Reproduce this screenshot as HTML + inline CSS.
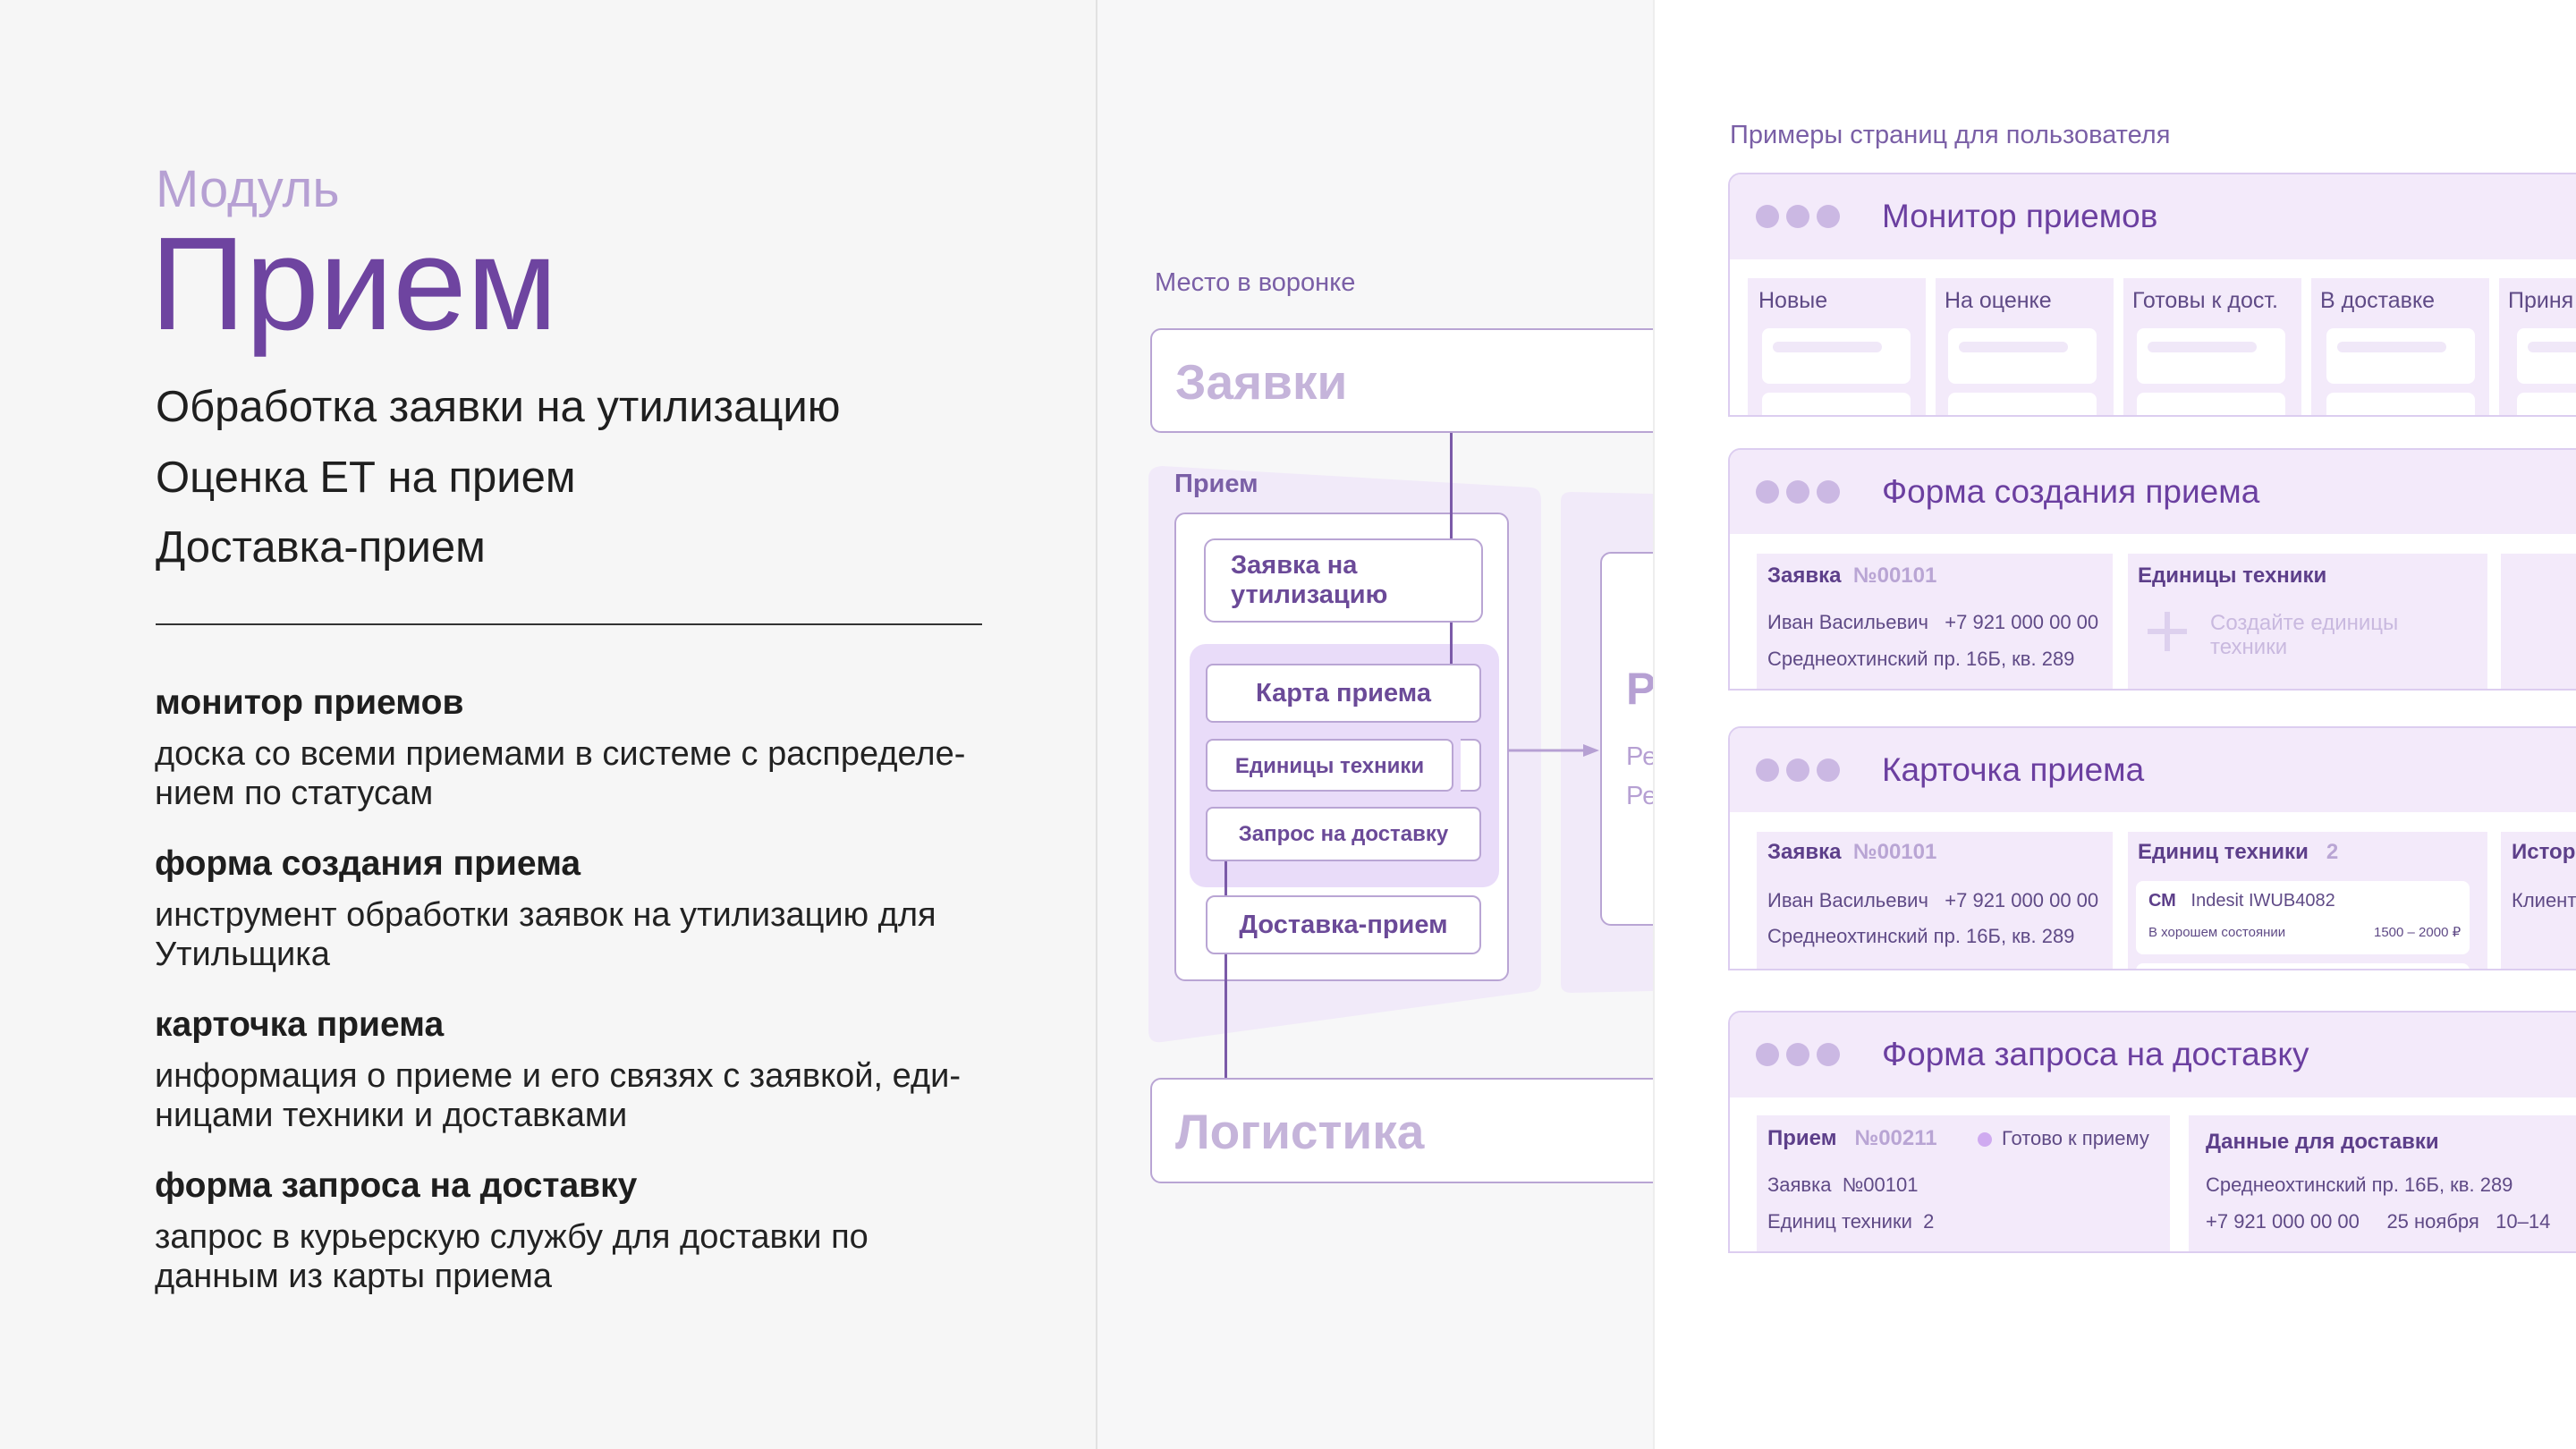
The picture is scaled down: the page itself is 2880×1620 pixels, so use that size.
<!DOCTYPE html>
<html><head><meta charset="utf-8"><style>
*{margin:0;padding:0;box-sizing:border-box}
body{width:2880px;height:1620px;overflow:hidden;position:relative;font-family:"Liberation Sans","Noto Sans CJK SC",sans-serif;background:#fff}
.a{position:absolute;white-space:nowrap}
.box{position:absolute;border:2px solid #b9a5d4;background:#fff;border-radius:12px}
.card{position:absolute;left:1932px;right:-20px;border:2px solid #dccdf0;border-radius:14px 0 0 0;background:#fff;overflow:hidden}
.hd{position:absolute;left:0;right:0;top:0;background:#f3eafa}
.dot{position:absolute;width:26px;height:26px;border-radius:50%;background:#cbb8e3}
.ct{position:absolute;left:170px;font-size:37px;color:#6b3fa0;white-space:nowrap}
.col{position:absolute;background:#f3eafa}
.t{position:absolute;white-space:nowrap;font-size:22px;color:#5f4a86}
</style></head><body>
<!-- backgrounds -->
<div class="a" style="left:0;top:0;width:1225px;height:1620px;background:#f6f6f6"></div>
<div class="a" style="left:1225px;top:0;width:2px;height:1620px;background:#e2e2e2"></div>
<div class="a" style="left:1227px;top:0;width:621px;height:1620px;background:#f7f7f8"></div>

<!-- left -->
<div class="a" style="left:174px;top:180px;font-size:58px;line-height:64px;color:#b6a0d3">Модуль</div>
<div class="a" style="left:168px;top:238px;font-size:148px;line-height:160px;color:#6e44a0">Прием</div>
<div class="a" style="left:174px;top:428px;font-size:49px;line-height:54px;color:#1f1f1f">Обработка заявки на утилизацию</div>
<div class="a" style="left:174px;top:507px;font-size:49px;line-height:54px;color:#1f1f1f">Оценка ЕТ на прием</div>
<div class="a" style="left:174px;top:585px;font-size:49px;line-height:54px;color:#1f1f1f">Доставка-прием</div>
<div class="a" style="left:174px;top:697px;width:924px;height:2px;background:#333"></div>

<div class="a" style="left:173px;top:764px;font-size:39px;line-height:44px;font-weight:bold;color:#1e1e1e">монитор приемов</div>
<div class="a" style="left:173px;top:821px;font-size:38px;line-height:44px;color:#222">доска со всеми приемами в системе с распределе-<br>нием по статусам</div>
<div class="a" style="left:173px;top:944px;font-size:39px;line-height:44px;font-weight:bold;color:#1e1e1e">форма создания приема</div>
<div class="a" style="left:173px;top:1001px;font-size:38px;line-height:44px;color:#222">инструмент обработки заявок на утилизацию для<br>Утильщика</div>
<div class="a" style="left:173px;top:1124px;font-size:39px;line-height:44px;font-weight:bold;color:#1e1e1e">карточка приема</div>
<div class="a" style="left:173px;top:1181px;font-size:38px;line-height:44px;color:#222">информация о приеме и его связях с заявкой, еди-<br>ницами техники и доставками</div>
<div class="a" style="left:173px;top:1304px;font-size:39px;line-height:44px;font-weight:bold;color:#1e1e1e">форма запроса на доставку</div>
<div class="a" style="left:173px;top:1361px;font-size:38px;line-height:44px;color:#222">запрос в курьерскую службу для доставки по<br>данным из карты приема</div>

<!-- middle -->
<div class="a" style="left:1291px;top:300px;font-size:29px;line-height:32px;color:#7a5fa6">Место в воронке</div>
<svg class="a" style="left:1227px;top:0" width="621" height="1620">
  <path d="M57 535 Q57 522 72 521 L485 545 Q496 546 496 560 L496 1095 Q496 1108 483 1109 L72 1165 Q57 1167 57 1152 Z" fill="#f1eaf9"/>
  <path d="M518 560 Q518 550 530 550 L621 552 L621 1108 L530 1110 Q518 1110 518 1100 Z" fill="#f1eaf9"/>
</svg>
<div class="box" style="left:1286px;top:367px;width:600px;height:117px"></div>
<div class="a" style="left:1314px;top:396px;font-size:55px;line-height:62px;font-weight:bold;color:#c5b4da">Заявки</div>
<div class="box" style="left:1286px;top:1205px;width:600px;height:118px"></div>
<div class="a" style="left:1314px;top:1234px;font-size:55px;line-height:62px;font-weight:bold;color:#c5b4da">Логистика</div>
<div class="a" style="left:1313px;top:524px;font-size:29px;line-height:34px;font-weight:bold;color:#7a5fa6">Прием</div>

<div class="box" style="left:1313px;top:573px;width:374px;height:524px"></div>
<div class="a" style="left:1330px;top:720px;width:346px;height:272px;background:#e9dcf9;border-radius:18px"></div>
<div class="box" style="left:1346px;top:602px;width:312px;height:94px"></div>
<div class="a" style="left:1376px;top:616px;font-size:29px;line-height:33px;font-weight:bold;color:#6b4a98">Заявка на<br>утилизацию</div>
<div class="box" style="left:1348px;top:742px;width:308px;height:66px;border-radius:8px"></div>
<div class="a" style="left:1348px;top:757px;width:308px;text-align:center;font-size:29px;line-height:36px;font-weight:bold;color:#6b4a98">Карта приема</div>
<div class="box" style="left:1348px;top:826px;width:277px;height:59px;border-radius:8px"></div>
<div class="box" style="left:1633px;top:826px;width:23px;height:59px;border-radius:0 8px 8px 0;border-left:none"></div>
<div class="a" style="left:1348px;top:842px;width:277px;text-align:center;font-size:24px;line-height:30px;font-weight:bold;color:#6b4a98">Единицы техники</div>
<div class="box" style="left:1348px;top:902px;width:308px;height:61px;border-radius:8px"></div>
<div class="a" style="left:1348px;top:918px;width:308px;text-align:center;font-size:24px;line-height:30px;font-weight:bold;color:#6b4a98">Запрос на доставку</div>
<div class="box" style="left:1348px;top:1001px;width:308px;height:66px;border-radius:10px"></div>
<div class="a" style="left:1348px;top:1016px;width:308px;text-align:center;font-size:29px;line-height:36px;font-weight:bold;color:#6b4a98">Доставка-прием</div>

<div class="a" style="left:1621px;top:484px;width:3px;height:118px;background:#7b5aa8"></div>
<div class="a" style="left:1621px;top:696px;width:3px;height:46px;background:#7b5aa8"></div>
<div class="a" style="left:1369px;top:963px;width:3px;height:38px;background:#7b5aa8"></div>
<div class="a" style="left:1369px;top:1067px;width:3px;height:138px;background:#7b5aa8"></div>
<svg class="a" style="left:1686px;top:829px" width="104" height="20"><line x1="0" y1="10" x2="88" y2="10" stroke="#b6a0d3" stroke-width="3"/><path d="M102 10 L84 3 L84 17 Z" fill="#b6a0d3"/></svg>
<div class="box" style="left:1789px;top:617px;width:120px;height:418px;border-radius:12px 0 0 12px"></div>
<div class="a" style="left:1818px;top:742px;font-size:50px;line-height:56px;font-weight:bold;color:#b6a0d3">Р</div>
<div class="a" style="left:1818px;top:824px;font-size:29px;line-height:44px;color:#b6a0d3">Ре<br>Ре</div>

<!-- right panel cover -->
<div class="a" style="left:1848px;top:0;width:1032px;height:1620px;background:#fff;border-left:2px solid #eeeeee"></div>

<!-- right -->
<div class="a" style="left:1934px;top:134px;font-size:29px;line-height:34px;color:#7a5fa6">Примеры страниц для пользователя</div>

<!-- card 1 -->
<div class="card" style="top:193px;height:273px">
  <div class="hd" style="height:95px"></div>
  <div class="dot" style="left:29px;top:34px"></div><div class="dot" style="left:63px;top:34px"></div><div class="dot" style="left:97px;top:34px"></div>
  <div class="ct" style="top:25px;line-height:44px">Монитор приемов</div>
  <div class="col" style="left:20px;top:116px;width:199px;height:160px"></div>
  <div class="col" style="left:230px;top:116px;width:199px;height:160px"></div>
  <div class="col" style="left:440px;top:116px;width:199px;height:160px"></div>
  <div class="col" style="left:650px;top:116px;width:199px;height:160px"></div>
  <div class="col" style="left:860px;top:116px;width:199px;height:160px"></div>
  <div class="t" style="left:32px;top:126px;font-size:25px;line-height:30px">Новые</div>
  <div class="t" style="left:240px;top:126px;font-size:25px;line-height:30px">На оценке</div>
  <div class="t" style="left:450px;top:126px;font-size:25px;line-height:30px">Готовы к дост.</div>
  <div class="t" style="left:660px;top:126px;font-size:25px;line-height:30px">В доставке</div>
  <div class="t" style="left:870px;top:126px;font-size:25px;line-height:30px">Приня</div>
  <div style="position:absolute;left:36px;top:172px;width:166px;height:62px;background:#fff;border-radius:8px"></div>
  <div style="position:absolute;left:244px;top:172px;width:166px;height:62px;background:#fff;border-radius:8px"></div>
  <div style="position:absolute;left:455px;top:172px;width:166px;height:62px;background:#fff;border-radius:8px"></div>
  <div style="position:absolute;left:667px;top:172px;width:166px;height:62px;background:#fff;border-radius:8px"></div>
  <div style="position:absolute;left:880px;top:172px;width:166px;height:62px;background:#fff;border-radius:8px"></div>
  <div style="position:absolute;left:36px;top:244px;width:166px;height:40px;background:#fff;border-radius:8px"></div>
  <div style="position:absolute;left:244px;top:244px;width:166px;height:40px;background:#fff;border-radius:8px"></div>
  <div style="position:absolute;left:455px;top:244px;width:166px;height:40px;background:#fff;border-radius:8px"></div>
  <div style="position:absolute;left:667px;top:244px;width:166px;height:40px;background:#fff;border-radius:8px"></div>
  <div style="position:absolute;left:880px;top:244px;width:166px;height:40px;background:#fff;border-radius:8px"></div>
  <div style="position:absolute;left:48px;top:187px;width:122px;height:12px;background:#f0e8f8;border-radius:6px"></div>
  <div style="position:absolute;left:256px;top:187px;width:122px;height:12px;background:#f0e8f8;border-radius:6px"></div>
  <div style="position:absolute;left:467px;top:187px;width:122px;height:12px;background:#f0e8f8;border-radius:6px"></div>
  <div style="position:absolute;left:679px;top:187px;width:122px;height:12px;background:#f0e8f8;border-radius:6px"></div>
  <div style="position:absolute;left:892px;top:187px;width:122px;height:12px;background:#f0e8f8;border-radius:6px"></div>
</div>

<!-- card 2 -->
<div class="card" style="top:501px;height:271px">
  <div class="hd" style="height:94px"></div>
  <div class="dot" style="left:29px;top:34px"></div><div class="dot" style="left:63px;top:34px"></div><div class="dot" style="left:97px;top:34px"></div>
  <div class="ct" style="top:25px;line-height:44px">Форма создания приема</div>
  <div class="col" style="left:30px;top:116px;width:398px;height:160px"></div>
  <div class="col" style="left:445px;top:116px;width:402px;height:160px"></div>
  <div class="col" style="left:862px;top:116px;width:200px;height:160px"></div>
  <div class="t" style="left:42px;top:127px;font-size:24px;line-height:28px;font-weight:bold;color:#5d3f8a">Заявка&nbsp; <span style="color:#b9a5d4">№00101</span></div>
  <div class="t" style="left:42px;top:180px">Иван Васильевич&nbsp;&nbsp; +7 921 000 00 00</div>
  <div class="t" style="left:42px;top:221px">Среднеохтинский пр. 16Б, кв. 289</div>
  <div class="t" style="left:456px;top:127px;font-size:24px;line-height:28px;font-weight:bold;color:#5d3f8a">Единицы техники</div>
  <div style="position:absolute;left:467px;top:200px;width:44px;height:6px;background:#ddd0ee"></div>
  <div style="position:absolute;left:486px;top:181px;width:6px;height:44px;background:#ddd0ee"></div>
  <div class="t" style="left:537px;top:180px;font-size:24px;line-height:27px;color:#c9b9df">Создайте единицы<br>техники</div>
</div>

<!-- card 3 -->
<div class="card" style="top:812px;height:273px">
  <div class="hd" style="height:94px"></div>
  <div class="dot" style="left:29px;top:34px"></div><div class="dot" style="left:63px;top:34px"></div><div class="dot" style="left:97px;top:34px"></div>
  <div class="ct" style="top:25px;line-height:44px">Карточка приема</div>
  <div class="col" style="left:30px;top:116px;width:398px;height:160px"></div>
  <div class="col" style="left:445px;top:116px;width:402px;height:160px"></div>
  <div class="col" style="left:862px;top:116px;width:200px;height:160px"></div>
  <div class="t" style="left:42px;top:125px;font-size:24px;line-height:28px;font-weight:bold;color:#5d3f8a">Заявка&nbsp; <span style="color:#b9a5d4">№00101</span></div>
  <div class="t" style="left:42px;top:180px">Иван Васильевич&nbsp;&nbsp; +7 921 000 00 00</div>
  <div class="t" style="left:42px;top:220px">Среднеохтинский пр. 16Б, кв. 289</div>
  <div class="t" style="left:456px;top:125px;font-size:24px;line-height:28px;font-weight:bold;color:#5d3f8a">Единиц техники&nbsp;&nbsp; <span style="color:#b9a5d4">2</span></div>
  <div style="position:absolute;left:454px;top:171px;width:373px;height:82px;background:#fff;border-radius:8px"></div>
  <div style="position:absolute;left:454px;top:263px;width:373px;height:30px;background:#fff;border-radius:8px"></div>
  <div class="t" style="left:468px;top:181px;font-size:20px;line-height:24px"><b style="color:#5d3f8a">СМ</b>&nbsp;&nbsp; Indesit IWUB4082</div>
  <div class="t" style="left:468px;top:219px;font-size:15px;line-height:20px">В хорошем состоянии</div>
  <div class="t" style="left:720px;top:219px;font-size:15px;line-height:20px">1500 – 2000 ₽</div>
  <div class="t" style="left:874px;top:125px;font-size:24px;line-height:28px;font-weight:bold;color:#5d3f8a">История</div>
  <div class="t" style="left:874px;top:180px">Клиент</div>
</div>

<!-- card 4 -->
<div class="card" style="top:1130px;height:271px">
  <div class="hd" style="height:95px"></div>
  <div class="dot" style="left:29px;top:34px"></div><div class="dot" style="left:63px;top:34px"></div><div class="dot" style="left:97px;top:34px"></div>
  <div class="ct" style="top:25px;line-height:44px">Форма запроса на доставку</div>
  <div class="col" style="left:30px;top:115px;width:462px;height:160px"></div>
  <div class="col" style="left:513px;top:115px;width:560px;height:160px"></div>
  <div class="t" style="left:42px;top:127px;font-size:24px;line-height:28px;font-weight:bold;color:#5d3f8a">Прием&nbsp;&nbsp; <span style="color:#b9a5d4">№00211</span></div>
  <div style="position:absolute;left:277px;top:134px;width:16px;height:16px;border-radius:50%;background:#cfaaf0"></div>
  <div class="t" style="left:304px;top:128px">Готово к приему</div>
  <div class="t" style="left:42px;top:180px">Заявка&nbsp; №00101</div>
  <div class="t" style="left:42px;top:221px">Единиц техники&nbsp; 2</div>
  <div class="t" style="left:532px;top:131px;font-size:24px;line-height:28px;font-weight:bold;color:#5d3f8a">Данные для доставки</div>
  <div class="t" style="left:532px;top:180px">Среднеохтинский пр. 16Б, кв. 289</div>
  <div class="t" style="left:532px;top:221px">+7 921 000 00 00&nbsp;&nbsp;&nbsp;&nbsp; 25 ноября&nbsp;&nbsp; 10–14</div>
</div>
</body></html>
